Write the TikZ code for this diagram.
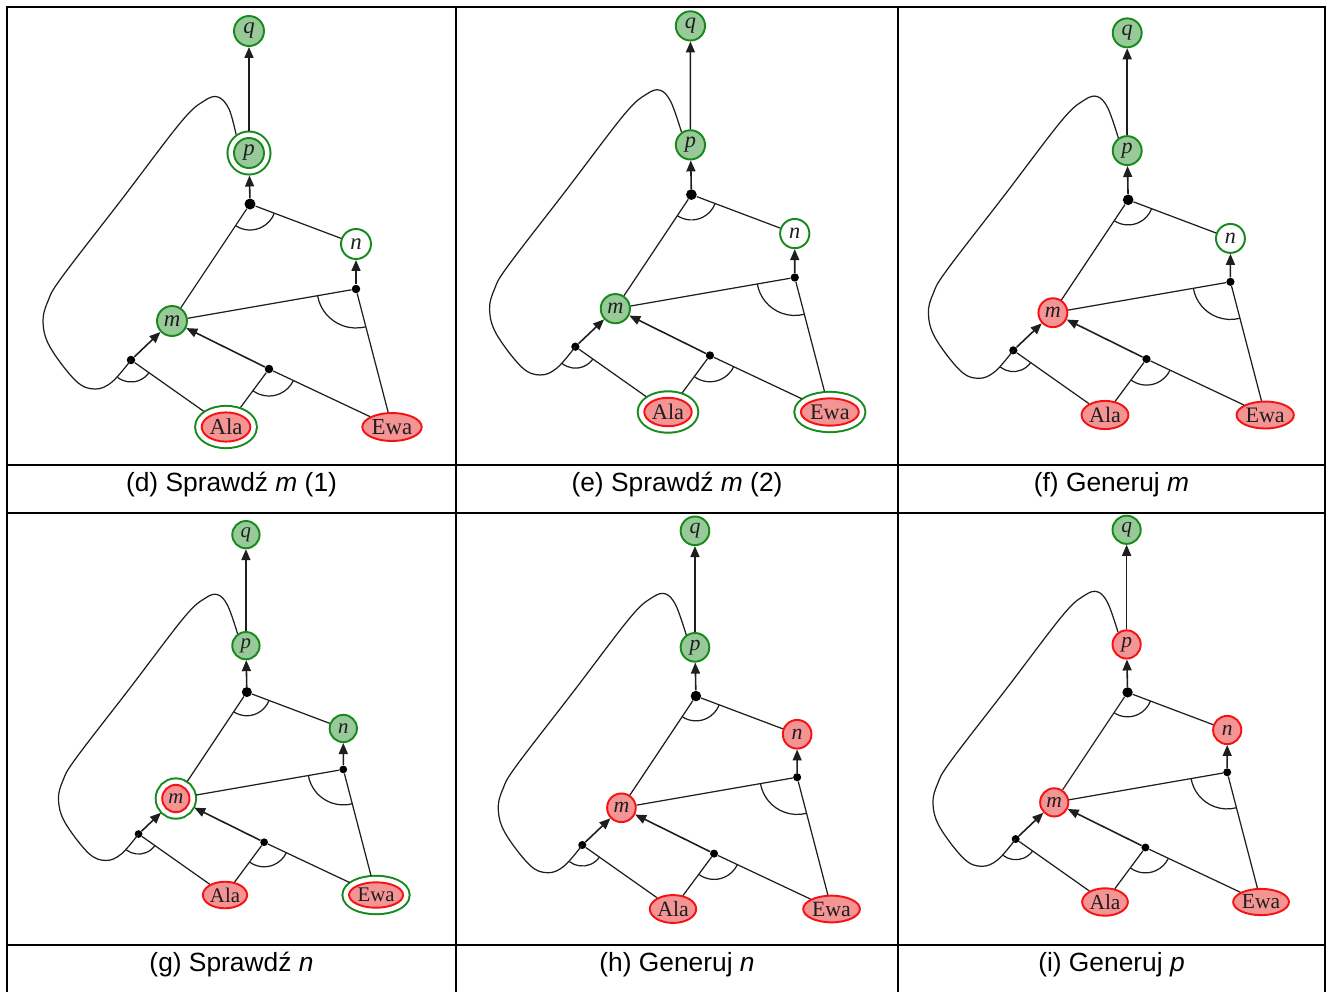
\documentclass[tikz,border=0pt]{standalone}
\usepackage{fontspec}
\setmainfont{Liberation Serif}
\setsansfont{Liberation Sans}
\usetikzlibrary{arrows.meta,shapes.geometric,angles}
\definecolor{okgreen}{HTML}{178A1C}
\definecolor{okfill}{HTML}{98C998}
\definecolor{nored}{HTML}{F71212}
\definecolor{nofill}{HTML}{F49494}
\definecolor{ink}{HTML}{1E1E1E}
\tikzset{
  vert/.style={circle,draw,line width=1.1pt,minimum size=0.6cm,inner sep=0pt,text=ink,font=\fontsize{13}{13}\selectfont\itshape},
  fact/.style={ellipse,draw,line width=1.1pt,inner xsep=0.4pt,inner ysep=1.3pt,text=ink,font=\fontsize{13}{13}\selectfont},
  yes/.style={draw=okgreen,fill=okfill},
  no/.style={draw=nored,fill=nofill},
  open/.style={draw=okgreen,fill=white},
  ring/.style={outer sep=0.15cm,preaction={draw=okgreen,line width=0.3cm},preaction={draw=white,line width=0.22cm}},
  dot/.style={circle,fill=black,inner sep=0pt,minimum size=0.17cm},
  bigdot/.style={dot,minimum size=0.22cm},
  ln/.style={line width=0.7pt,ink},
  ar/.style={ln,line width=0.9pt,-{Triangle[length=0.22cm,width=0.18cm]}},
  andarc/.style={draw,ln,angle radius=#1},
  captext/.style={font=\sffamily\fontsize{15}{18}\selectfont,anchor=base},
  rule/.style={line width=0.04cm}
}
% one and/or graph, node looks come from qst, pst, nst, mst, alast, ewast
\newcommand\andorgraph{%
  \node[fact,alast] (Ala) at (0,0) {Ala};
  \node[fact,ewast] (Ewa) at (166,0) {Ewa};
  \node[vert,mst] (m) at (-54,106) {m};
  \node[vert,nst] (n) at (130,183) {n};
  \node[vert,pst] (p) at (23,274) {p};
  \node[vert,qst] (q) at (23,396) {q};
  \node[bigdot] (T) at (24,223) {};
  \node[dot] (R) at (130,138) {};
  \node[dot] (L) at (-95,67) {};
  \node[dot] (M) at (43,58) {};
  \coordinate (Lc) at (-113,44);
  \draw[ar] (p) -- (q);
  \draw[ar] (T) -- (p);
  \draw[ar] (R) -- (n);
  \draw[ar] (L) -- (m);
  \draw[ar] (M) -- (m);
  \draw[ln] (T) -- (m) (T) -- (n) (R) -- (m) (R) -- (Ewa)
            (L) -- (Ala) (M) -- (Ala) (M) -- (Ewa);
  % back edge from p down to L
  \draw[ln] plot[smooth,tension=0.6] coordinates {(p.125) (3,318) (-8,330) (-22,326) (-45,305)
            (-104,228) (-164,150) (-178,126) (-183,105) (-176,80) (-150,46) (-131,38) (-114,45) (L)};
  \pic[andarc=0.52cm] {angle=m--T--n};
  \pic[andarc=0.78cm] {angle=m--R--Ewa};
  \pic[andarc=0.44cm] {angle=Lc--L--Ala};
  \pic[andarc=0.54cm] {angle=Ala--M--Ewa};
}

\begin{document}
\begin{tikzpicture}[x=0.02cm,y=0.02cm]
\useasboundingbox (0,0) rectangle (1330,-992);
% table rules
\draw[rule] (7,-992) -- (7,-7) -- (1325,-7) -- (1325,-992);
\draw[rule] (456,-7) -- (456,-992) (898,-7) -- (898,-992);
\draw[rule] (7,-465) -- (1325,-465) (7,-945) -- (1325,-945);
\draw[rule] (7,-513) -- (48,-513) (414,-513) -- (487,-513) (867,-513) -- (930,-513) (1295,-513) -- (1325,-513);
\draw[line width=0.6pt] (48,-513) -- (414,-513) (487,-513) -- (867,-513) (930,-513) -- (1295,-513);

% top row
\begin{scope}[shift={(226,-427)},transform shape,
  qst/.style=yes,pst/.style={yes,ring},nst/.style=open,mst/.style=yes,alast/.style={no,ring},ewast/.style=no]
  \andorgraph
\end{scope}
\begin{scope}[shift={(668,-412)},scale=0.975,transform shape,
  qst/.style=yes,pst/.style=yes,nst/.style=open,mst/.style=yes,alast/.style={no,ring},ewast/.style={no,ring}]
  \andorgraph
\end{scope}
\begin{scope}[shift={(1105,-415)},scale=0.965,transform shape,
  qst/.style=yes,pst/.style=yes,nst/.style=open,mst/.style=no,alast/.style=no,ewast/.style=no]
  \andorgraph
\end{scope}

% bottom row
\begin{scope}[shift={(225,-895)},scale=0.91,transform shape,
  qst/.style=yes,pst/.style=yes,nst/.style=yes,mst/.style={no,ring},alast/.style=no,ewast/.style={no,ring}]
  \andorgraph
\end{scope}
\begin{scope}[shift={(673,-909)},scale=0.955,transform shape,
  qst/.style=yes,pst/.style=yes,nst/.style=no,mst/.style=no,alast/.style=no,ewast/.style=no]
  \andorgraph
\end{scope}
\begin{scope}[shift={(1105,-902)},scale=0.94,transform shape,
  qst/.style=yes,pst/.style=no,nst/.style=no,mst/.style=no,alast/.style=no,ewast/.style=no]
  \andorgraph
\end{scope}

\node[captext] (capd) at (231.5,-491) {(d) Sprawdź \textit{m} (1)};
\node[captext] (cape) at (677,-491) {(e) Sprawdź \textit{m} (2)};
\node[captext] (capf) at (1111.5,-491) {(f) Generuj \textit{m}};
\node[captext] (capg) at (231.5,-971) {(g) Sprawdź \textit{n}};
\node[captext] (caph) at (677,-971) {(h) Generuj \textit{n}};
\node[captext] (capi) at (1111.5,-971) {(i) Generuj \textit{p}};
\end{tikzpicture}
\end{document}
